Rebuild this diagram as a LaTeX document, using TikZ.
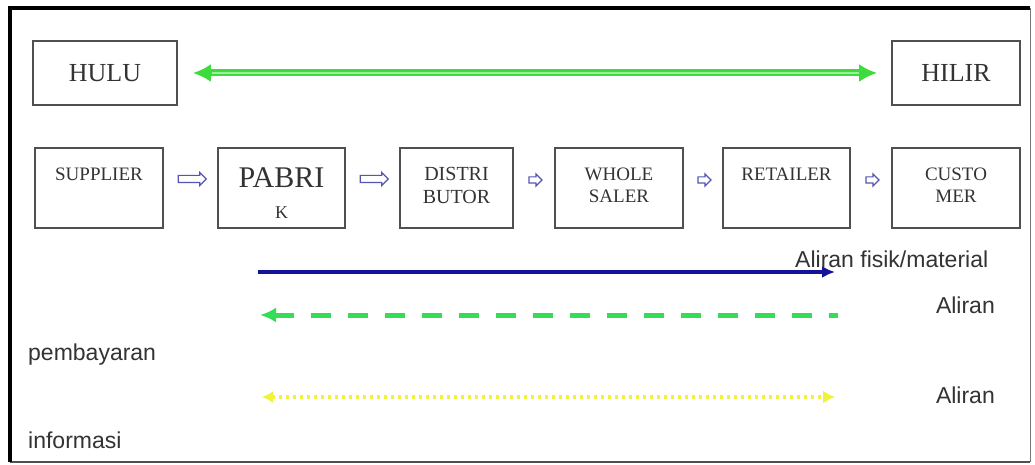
\documentclass[tikz,border=0pt]{standalone}
\usepackage{fontspec}
\setmainfont{Liberation Serif}
\setsansfont{Liberation Sans}
\usetikzlibrary{arrows.meta,shapes.arrows,calc}
\definecolor{boxgray}{HTML}{505050}
\definecolor{txtgray}{HTML}{333333}
\definecolor{topgreen}{HTML}{3DDC3D}
\definecolor{lightgreen}{HTML}{9BEE9B}
\definecolor{flowblue}{HTML}{12129A}
\definecolor{dashgreen}{HTML}{33DD55}
\definecolor{flowyellow}{HTML}{F2F23A}
\definecolor{arrblue}{HTML}{5555B5}
\definecolor{framegray}{HTML}{777777}
\begin{document}
\begin{tikzpicture}[x=1pt,y=-1pt,
  boxbase/.style={draw=boxgray, line width=1.6pt, inner sep=0pt, align=center, text=txtgray},
  topbox/.style={boxbase, minimum height=64pt, font=\fontsize{26}{30}\selectfont},
  rowbox/.style={boxbase, minimum height=80pt, minimum width=#1, font=\fontsize{19}{22}\selectfont, text height=10pt, text depth=26pt},
  tworow/.style={text height=38pt, text depth=10pt},
  bigarr/.style={single arrow, draw=arrblue, fill=white, line width=1.2pt, minimum height=28pt, inner sep=3pt, single arrow head extend=3pt, yshift=9pt},
  smallarr/.style={single arrow, draw=arrblue, fill=white, line width=1.2pt, minimum height=13pt, inner sep=2.5pt, single arrow head extend=3pt, yshift=8pt},
  lbl/.style={font=\sffamily\fontsize{23}{26}\selectfont, text=txtgray, inner sep=0pt}
]
\useasboundingbox (0,0) rectangle (1035,465);
\fill[white] (0,0) rectangle (1035,465);
% frame
\draw[framegray, line width=1pt] (1030,8) -- (1030,462);
\draw[boxgray, line width=2pt] (10,462) -- (1030,462);
\draw[black, line width=3.5pt] (10,462) -- (10,8) -- (1030,8);

% top boxes
\node[topbox, minimum width=144pt] (hulu) at (105,73) {HULU};
\node[topbox, minimum width=128pt] (hilir) at (956,73) {HILIR};

% row boxes
\node[rowbox=128pt] (sup) at (99,188) {SUPPLIER};
\node[rowbox=127pt, font=\fontsize{30}{30}\selectfont, text height=65pt, text depth=5pt] (pab) at (281.5,188) {PABRI\\{\fontsize{18}{18}\selectfont K}};
\node[rowbox=113pt, font=\fontsize{20}{23}\selectfont, text height=40pt, text depth=10pt] (dis) at (456.5,188) {DISTRI\\BUTOR};
\node[rowbox=128pt, tworow] (who) at (619,188) {WHOLE\\SALER};
\node[rowbox=127pt] (ret) at (786.5,188) {RETAILER};
\node[rowbox=128pt, tworow] (cus) at (956,188) {CUSTO\\MER};

% small hollow arrows
\node[bigarr] (a1) at ($(sup.east)!0.5!(pab.west)$) {};
\node[bigarr] (a2) at ($(pab.east)!0.5!(dis.west)$) {};
\node[smallarr] (a3) at ($(dis.east)!0.5!(who.west)$) {};
\node[smallarr] (a4) at ($(who.east)!0.5!(ret.west)$) {};
\node[smallarr] (a5) at ($(ret.east)!0.5!(cus.west)$) {};

% top green double arrow
\draw[topgreen, line width=7pt, {Latex[length=18pt,width=18pt]}-{Latex[length=18pt,width=18pt]}, shorten <=15pt, shorten >=14pt] (hulu) -- (hilir);
\draw[lightgreen, line width=1.3pt, shorten <=34pt, shorten >=32pt] (hulu) -- (hilir);

% labels
\node[lbl, anchor=base west] (lfis) at (795,267) {Aliran fisik/material};
\node[lbl, anchor=base east] (lbay1) at (995,313) {Aliran};
\node[lbl, anchor=base west] (lbay2) at (28,360) {pembayaran};
\node[lbl, anchor=base east] (linf1) at (995,403) {Aliran};
\node[lbl, anchor=base west] (linf2) at (28,448) {informasi};

% flow lines
\coordinate (bs) at (258,272);
\coordinate (be) at (835,272);
\coordinate (gs) at (260,315);
\coordinate (ge) at (838,315);
\coordinate (ys) at (262,397);
\coordinate (ye) at (835,397);
\draw[flowblue, line width=4pt, -{Latex[length=13pt,width=12pt]}] (bs) -- (be);
\draw[dashgreen, line width=5pt, dash pattern=on 20pt off 17pt, {Latex[length=16pt,width=15pt]}-] (gs) -- (ge);
\draw[flowyellow, line width=4pt, dash pattern=on 3pt off 4pt, {Latex[length=11pt,width=12pt]}-{Latex[length=12pt,width=13pt]}] (ys) -- (ye);
\end{tikzpicture}
\end{document}
